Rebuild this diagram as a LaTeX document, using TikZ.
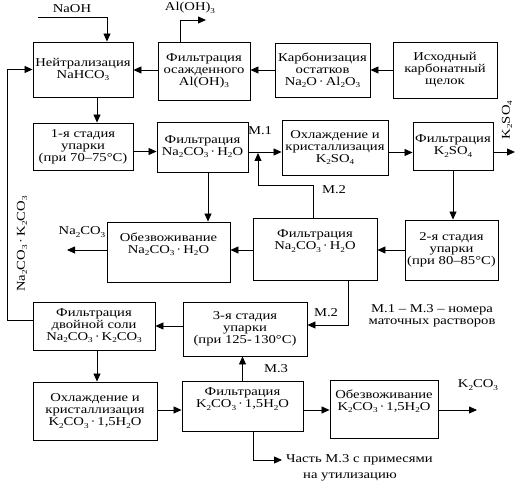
\documentclass[tikz,border=0pt]{standalone}
\usepackage{fontspec}
\setmainfont{Liberation Serif}[FakeStretch=1.22]
\usetikzlibrary{arrows.meta}
\newcommand\sbs[1]{\raisebox{-0.4ex}{\fontsize{7.5}{7.5}\selectfont #1}}
\begin{document}
\begin{tikzpicture}[x=1pt,y=-1pt,
 box/.style={draw,line width=0.9pt,align=center,inner sep=1pt,font=\fontsize{12}{12}\selectfont},
 arr/.style={line width=0.8pt,-{Triangle[length=8pt,width=7pt]}},
 lbl/.style={font=\fontsize{12}{12}\selectfont,inner sep=0pt,align=center}]
\useasboundingbox (0,0) rectangle (520,486);
% row 1
\node[box,minimum width=100pt,minimum height=55pt] (neut) at (83,69.5) {Нейтрализация\\NaHCO\sbs{3}};
\node[box,minimum width=92pt,minimum height=58pt] (filtal) at (204,71) {Фильтрация\\осажденного\\Al(OH)\sbs{3}};
\node[box,minimum width=95pt,minimum height=54pt] (carb) at (322.5,70) {Карбонизация\\остатков\\Na\sbs{2}O\,·\,Al\sbs{2}O\sbs{3}};
\node[box,minimum width=104pt,minimum height=56pt] (ish) at (445,70) {Исходный\\карбонатный\\щелок};
% row 2
\node[box,minimum width=100pt,minimum height=47pt] (st1) at (83,146.5) {1-я стадия\\упарки\\(при 70–75°С)};
\node[box,minimum width=91pt,minimum height=50pt] (fna) at (202.5,147) {Фильтрация\\Na\sbs{2}CO\sbs{3}\,·\,H\sbs{2}O};
\node[box,minimum width=106pt,minimum height=55pt] (cool1) at (335,147.5) {Охлаждение и\\кристаллизация\\K\sbs{2}SO\sbs{4}};
\node[box,minimum width=80pt,minimum height=48pt] (fk) at (453,146) {Фильтрация\\K\sbs{2}SO\sbs{4}};
% row 3
\node[box,minimum width=123pt,minimum height=60pt] (dehna) at (168.5,252) {Обезвоживание\\Na\sbs{2}CO\sbs{3}\,·\,H\sbs{2}O\\[6pt]};
\node[box,minimum width=124pt,minimum height=62pt] (fna2) at (315,249) {Фильтрация\\Na\sbs{2}CO\sbs{3}\,·\,H\sbs{2}O\\[6pt]};
\node[box,minimum width=93pt,minimum height=60pt] (st2) at (451.5,250) {2-я стадия\\упарки\\(при 80--85°С)};
% row 4
\node[box,minimum width=122pt,minimum height=48pt] (fdouble) at (94,326) {Фильтрация\\двойной соли\\Na\sbs{2}CO\sbs{3}\,·\,K\sbs{2}CO\sbs{3}};
\node[box,minimum width=124pt,minimum height=54pt] (st3) at (245,329) {3-я стадия\\упарки\\(при 125-\,130°С)};
% row 5
\node[box,minimum width=124pt,minimum height=58pt] (cool2) at (95,411) {Охлаждение и\\кристаллизация\\K\sbs{2}CO\sbs{3}\,·\,1,5H\sbs{2}O};
\node[box,minimum width=121pt,minimum height=50pt] (fk2) at (242.5,406) {Фильтрация\\K\sbs{2}CO\sbs{3}\,·\,1,5H\sbs{2}O\\[4pt]};
\node[box,minimum width=108pt,minimum height=58pt] (dehk) at (384,409) {Обезвоживание\\K\sbs{2}CO\sbs{3}\,·\,1,5H\sbs{2}O\\[6pt]};
% free ends
\coordinate (naoh0) at (38,17);
\coordinate (aloh1) at (206,20);
\coordinate (k2so4out) at (515,152);
\coordinate (naout) at (67,250);
\coordinate (k2co3out) at (477,410);
\coordinate (waste) at (282,460);
\coordinate (fbk) at (7,200);
\coordinate (m2a) at (258,185);
\coordinate (m2b) at (258,153);
% labels
\node[lbl] (naohl) at (72,9) {NaOH};
\node[lbl] (alohl) at (190,8) {Al(OH)\sbs{3}};
\node[lbl,rotate=90] (k2so4l) at (507,120) {K\sbs{2}SO\sbs{4}};
\node[lbl] (m1l) at (260,131) {М.1};
\node[lbl] (m2l) at (334,190) {М.2};
\node[lbl] (naoutl) at (82,232) {Na\sbs{2}CO\sbs{3}};
\node[lbl,rotate=90] (dbl) at (22,244) {Na\sbs{2}CO\sbs{3}\,·\,K\sbs{2}CO\sbs{3}};
\node[lbl] (m2l2) at (326,313) {М.2};
\node[lbl] (m3l) at (276,369) {М.3};
\node[lbl] (legend) at (432,316) {М.1 – М.3 – номера\\маточных растворов};
\node[lbl] (k2co3l) at (478,385) {K\sbs{2}CO\sbs{3}};
\node[lbl,anchor=west] (wastel1) at (286,460) {Часть М.3 с примесями};
\node[lbl] (wastel2) at (350,477) {на утилизацию};
% connectors
\draw[arr] (naoh0) -| ([xshift=24pt]neut.north);
\draw[arr] ([xshift=-24pt]filtal.north) |- (aloh1);
\draw[arr] (ish.west) -- (carb.east |- ish.west);
\draw[arr] (carb.west) -- (filtal.east |- carb.west);
\draw[arr] ([yshift=1pt]filtal.west) -- ([yshift=1pt]filtal.west -| neut.east);
\draw[arr] ([xshift=14pt]neut.south) -- ([xshift=14pt]neut.south |- st1.north);
\draw[arr] ([yshift=-5pt]st1.east) -- ([yshift=-5pt]st1.east -| fna.west);
\draw[arr] ([yshift=-5pt]fna.east) -- ([yshift=-5pt]fna.east -| cool1.west);
\draw[arr] ([xshift=-2pt]fna2.north) |- (m2a) -- (m2b);
\draw[arr] ([yshift=-5pt]cool1.east) -- ([yshift=-5pt]cool1.east -| fk.west);
\draw[arr] ([yshift=-6pt]fk.east) -- (k2so4out);
\draw[arr] (fk.south) -- (fk.south |- st2.north);
\draw[arr] ([xshift=5.5pt]fna.south) -- ([xshift=5.5pt]fna.south |- dehna.north);
\draw[arr] (st2.west) -- (st2.west -| fna2.east);
\draw[arr] ([yshift=-1pt]fna2.west) -- ([yshift=-1pt]fna2.west -| dehna.east);
\draw[arr] ([yshift=2pt]dehna.west) -- (naout);
\draw[arr] ([xshift=33pt]fna2.south) |- ([yshift=4pt]st3.east);
\draw[arr] ([yshift=3pt]st3.west) -- ([yshift=3pt]st3.west -| fdouble.east);
\draw[arr] ([yshift=6pt]fdouble.west) -- ([yshift=6pt]fdouble.west -| fbk) |- (neut.west);
\draw[arr] ([xshift=3pt]fdouble.south) -- ([xshift=3pt]fdouble.south |- cool2.north);
\draw[arr] ([yshift=1pt]cool2.east) -- ([yshift=1pt]cool2.east -| fk2.west);
\draw[arr] (fk2.north) -- (fk2.north |- st3.south);
\draw[arr] ([yshift=-4pt]fk2.east) -- ([yshift=-4pt]fk2.east -| dehk.west);
\draw[arr] ([yshift=-1pt]dehk.east) -- (k2co3out);
\draw[arr] ([xshift=10.5pt]fk2.south) |- (waste);
\end{tikzpicture}
\end{document}
